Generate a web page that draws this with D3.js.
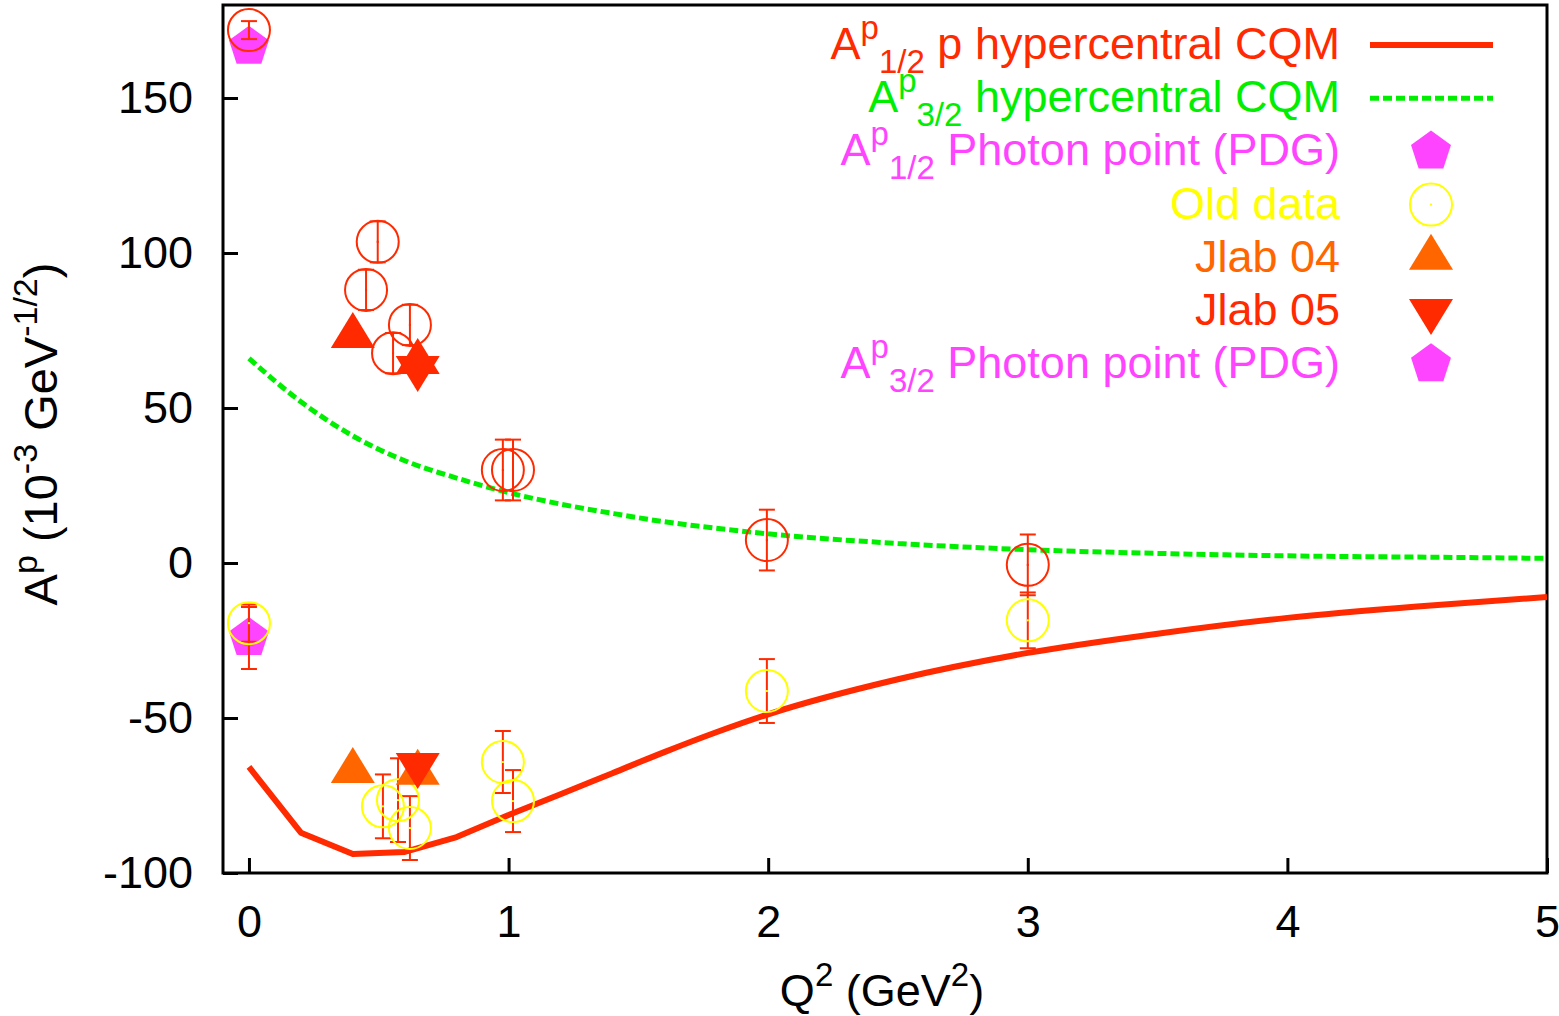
<!DOCTYPE html>
<html>
<head>
<meta charset="utf-8">
<script src="https://cdn.jsdelivr.net/npm/d3@7"></script>
<style>
  html, body { margin: 0; padding: 0; background: #fff; }
  svg { display: block; font-family: "Liberation Sans", Arial, Helvetica, sans-serif; }
</style>
</head>
<body>
<svg id="chart" width="1559" height="1016"></svg>
<script>
// model curves (Q^2 in GeV^2, amplitudes in 10^-3 GeV^-1/2)
const curveQ2 = [0, 0.2, 0.4, 0.6, 0.8, 1.0, 1.2, 1.4, 1.6, 1.8, 2.0, 2.5, 3.0, 3.5, 4.0, 4.5, 5.0];
const a12Curve = [-65.8, -87, -93.9, -93.2, -88.4, -81.3, -74.6, -67.8, -61, -54.6, -48.8, -37.5, -29, -22.8, -17.7, -14, -11];
const a32Curve = [66, 52, 41, 33, 27.4, 22.7, 19, 16, 13.3, 11.2, 9.4, 6.3, 4.3, 3.1, 2.3, 1.9, 1.5];

// old data, A3/2 (red circles)
const oldA32Q2 = [0, 0.451, 0.496, 0.555, 0.62, 0.978, 1.017, 1.995, 3.0];
const oldA32 = [171.9, 88.1, 103.6, 67.7, 76.8, 30, 30, 7.4, -0.6];
const oldA32Err = [2.9, 6.5, 6.6, 6.5, 6.5, 9.8, 9.8, 9.8, 9.8];

// old data, A1/2 (yellow circles)
const oldA12Q2 = [0, 0.516, 0.574, 0.62, 0.978, 1.017, 1.995, 3.0];
const oldA12 = [-19.4, -78.5, -76.5, -85.5, -64.2, -76.8, -41.3, -18.5];
const oldA12Err = [6, 10.3, 13.5, 10.3, 10, 10, 10.3, 9];

// photon points (PDG)
const pdgA12 = { q2: 0, v: -24.2, err: 10 };
const pdgA32 = { q2: 0, v: 166.5 };

// Jlab
const jlab04A12Q2 = [0.4, 0.65];
const jlab04A12 = [-67.1, -67.7];
const jlab04A32Q2 = [0.4, 0.65];
const jlab04A32 = [73.2, 64.8];
const jlab05Q2 = [0.65, 0.65];
const jlab05 = [-65.2, 62.9];

const xTicks = [0, 1, 2, 3, 4, 5];
const yTicks = [-100, -50, 0, 50, 100, 150];

const RED = '#ff2a00', GREEN = '#00ee00', MAGENTA = '#ff44ff', YELLOW = '#ffff00', ORANGE = '#ff6600';

const legendRows = [
  { parts: [['A', ''], ['p', 'sup'], ['1/2', 'sub'], [' p hypercentral CQM', '']], color: RED, mark: 'line' },
  { parts: [['A', ''], ['p', 'sup'], ['3/2', 'sub'], [' hypercentral CQM', '']], color: GREEN, mark: 'dash' },
  { parts: [['A', ''], ['p', 'sup'], ['1/2', 'sub'], [' Photon point (PDG)', '']], color: MAGENTA, mark: 'pentagon' },
  { parts: [['Old data', '']], color: YELLOW, mark: 'circle' },
  { parts: [['Jlab 04', '']], color: ORANGE, mark: 'up' },
  { parts: [['Jlab 05', '']], color: RED, mark: 'down' },
  { parts: [['A', ''], ['p', 'sup'], ['3/2', 'sub'], [' Photon point (PDG)', '']], color: MAGENTA, mark: 'pentagon' }
];

const plot = { left: 223, right: 1547, top: 5, bottom: 873 };
const x = d3.scaleLinear().domain([-0.1, 5]).range([plot.left, plot.right]);
const y = d3.scaleLinear().domain([-100, 180]).range([plot.bottom, plot.top]);

const svg = d3.select('#chart');

const fontSize = 45;
const smallSize = 33;

const pentagonPath = (r) => {
  const pts = d3.range(5).map(i => {
    const a = -Math.PI / 2 + i * 2 * Math.PI / 5;
    return [r * Math.cos(a), r * Math.sin(a)];
  });
  return 'M' + pts.join('L') + 'Z';
};
const triUp = 'M0,-24L22,12L-22,12Z';
const triDown = 'M0,24L22,-12L-22,-12Z';

function richText(textSel, parts, size, small) {
  let offset = 0;
  parts.forEach(([t, kind]) => {
    const target = kind === 'sup' ? -20 : kind === 'sub' ? 14 : 0;
    textSel.append('tspan')
      .attr('dy', target - offset)
      .attr('font-size', kind ? small : size)
      .text(t);
    offset = target;
  });
}

svg.append('clipPath').attr('id', 'clip')
  .append('rect')
    .attr('x', plot.left).attr('y', plot.top)
    .attr('width', plot.right - plot.left).attr('height', plot.bottom - plot.top);

// axes, ticks pointing inward
const yAxis = d3.axisLeft(y).tickValues(yTicks).tickSize(-15).tickPadding(30).tickFormat(d => String(d));
const xAxis = d3.axisBottom(x).tickValues(xTicks).tickSize(-15).tickPadding(32).tickFormat(d => String(d));

svg.append('g')
  .attr('transform', `translate(${plot.left},0)`)
  .call(yAxis)
  .call(g => g.select('.domain').remove())
  .call(g => g.selectAll('line').attr('stroke', '#000').attr('stroke-width', 3))
  .call(g => g.selectAll('text').attr('font-size', fontSize).attr('fill', '#000').attr('font-family', null));

svg.append('g')
  .attr('transform', `translate(0,${plot.bottom})`)
  .call(xAxis)
  .call(g => g.select('.domain').remove())
  .call(g => g.selectAll('line').attr('stroke', '#000').attr('stroke-width', 3))
  .call(g => g.selectAll('text').attr('font-size', fontSize).attr('fill', '#000').attr('font-family', null));

svg.append('rect')
  .attr('x', plot.left).attr('y', plot.top)
  .attr('width', plot.right - plot.left).attr('height', plot.bottom - plot.top)
  .attr('fill', 'none').attr('stroke', '#000').attr('stroke-width', 3);

// axis titles
const yTitle = svg.append('text')
  .attr('transform', 'translate(57,434) rotate(-90)')
  .attr('text-anchor', 'middle')
  .attr('fill', '#000');
richText(yTitle, [['A', ''], ['p', 'sup'], [' (10', ''], ['-3', 'sup'], [' GeV', ''], ['-1/2', 'sup'], [')', '']], 47, 34);

const xTitle = svg.append('text')
  .attr('x', 882).attr('y', 1006)
  .attr('text-anchor', 'middle')
  .attr('fill', '#000');
richText(xTitle, [['Q', ''], ['2', 'sup'], [' (GeV', ''], ['2', 'sup'], [')', '']], fontSize, smallSize);

// curves: straight segments at low Q^2, smooth beyond 1 GeV^2
const linePts = d3.line().x(d => x(d[0])).y(d => y(d[1]));
const lineSmooth = d3.line().x(d => x(d[0])).y(d => y(d[1])).curve(d3.curveMonotoneX);
const curves = svg.append('g').attr('clip-path', 'url(#clip)');

curves.append('path')
  .attr('d', lineSmooth(d3.zip(curveQ2, a32Curve)))
  .attr('fill', 'none').attr('stroke', GREEN).attr('stroke-width', 5)
  .attr('stroke-dasharray', '9,4');

const a12Pts = d3.zip(curveQ2, a12Curve);
const split = curveQ2.indexOf(1.0);
curves.append('path')
  .attr('d', linePts(a12Pts.slice(0, split + 1)) + lineSmooth(a12Pts.slice(split)))
  .attr('fill', 'none').attr('stroke', RED).attr('stroke-width', 6)
  .attr('stroke-linejoin', 'round');

// photon points
svg.append('g').selectAll('path')
  .data([pdgA32, pdgA12])
  .enter()
  .append('path')
    .attr('d', pentagonPath(21))
    .attr('transform', d => `translate(${x(d.q2)},${y(d.v)})`)
    .attr('fill', MAGENTA);

function drawErrorBars(q2, vals, errs) {
  const g = svg.append('g').attr('stroke', RED).attr('stroke-width', 2);
  const data = d3.zip(q2, vals, errs);
  g.selectAll('line.bar')
    .data(data).enter().append('line')
      .attr('class', 'bar')
      .attr('x1', d => x(d[0])).attr('x2', d => x(d[0]))
      .attr('y1', d => y(d[1] - d[2])).attr('y2', d => y(d[1] + d[2]));
  [1, -1].forEach(s => {
    g.selectAll(`line.cap${s}`)
      .data(data).enter().append('line')
        .attr('x1', d => x(d[0]) - 8).attr('x2', d => x(d[0]) + 8)
        .attr('y1', d => y(d[1] + s * d[2])).attr('y2', d => y(d[1] + s * d[2]));
  });
}

function drawCircles(q2, vals, color) {
  const g = svg.append('g');
  const data = d3.zip(q2, vals);
  g.selectAll('circle.ring')
    .data(data).enter().append('circle')
      .attr('cx', d => x(d[0])).attr('cy', d => y(d[1]))
      .attr('r', 21)
      .attr('fill', 'none').attr('stroke', color).attr('stroke-width', 2);
  g.selectAll('rect.dot')
    .data(data).enter().append('rect')
      .attr('x', d => x(d[0]) - 1).attr('y', d => y(d[1]) - 1)
      .attr('width', 2).attr('height', 2)
      .attr('fill', color);
}

drawErrorBars([pdgA12.q2], [pdgA12.v], [pdgA12.err]);

drawErrorBars(oldA32Q2, oldA32, oldA32Err);
drawCircles(oldA32Q2, oldA32, RED);

drawErrorBars(oldA12Q2, oldA12, oldA12Err);
drawCircles(oldA12Q2, oldA12, YELLOW);

function drawTriangles(q2, vals, shape, color) {
  svg.append('g').selectAll('path')
    .data(d3.zip(q2, vals))
    .enter()
    .append('path')
      .attr('d', shape)
      .attr('transform', d => `translate(${x(d[0])},${y(d[1])})`)
      .attr('fill', color);
}

drawTriangles(jlab04A32Q2, jlab04A32, triUp, RED);
drawTriangles(jlab04A12Q2, jlab04A12, triUp, ORANGE);
drawTriangles(jlab05Q2, jlab05, triDown, RED);

// legend
const legend = svg.append('g');
const rowY = d3.scaleLinear().domain([0, 1]).range([45, 98.2]);
const textRight = 1340, markX = 1431;

legendRows.forEach((row, i) => {
  const cy = rowY(i);
  const t = legend.append('text')
    .attr('x', textRight).attr('y', cy + 14)
    .attr('text-anchor', 'end')
    .attr('fill', row.color);
  richText(t, row.parts, fontSize, smallSize);

  if (row.mark === 'line' || row.mark === 'dash') {
    legend.append('line')
      .attr('x1', 1370).attr('x2', 1493).attr('y1', cy).attr('y2', cy)
      .attr('stroke', row.color)
      .attr('stroke-width', row.mark === 'line' ? 6 : 5)
      .attr('stroke-dasharray', row.mark === 'dash' ? '9,4' : null);
  } else if (row.mark === 'pentagon') {
    legend.append('path').attr('d', pentagonPath(21))
      .attr('transform', `translate(${markX},${cy})`).attr('fill', row.color);
  } else if (row.mark === 'circle') {
    legend.append('circle').attr('cx', markX).attr('cy', cy).attr('r', 21)
      .attr('fill', 'none').attr('stroke', row.color).attr('stroke-width', 2);
    legend.append('rect').attr('x', markX - 1).attr('y', cy - 1)
      .attr('width', 2).attr('height', 2).attr('fill', row.color);
  } else {
    legend.append('path').attr('d', row.mark === 'up' ? triUp : triDown)
      .attr('transform', `translate(${markX},${cy})`).attr('fill', row.color);
  }
});
</script>
</body>
</html>
